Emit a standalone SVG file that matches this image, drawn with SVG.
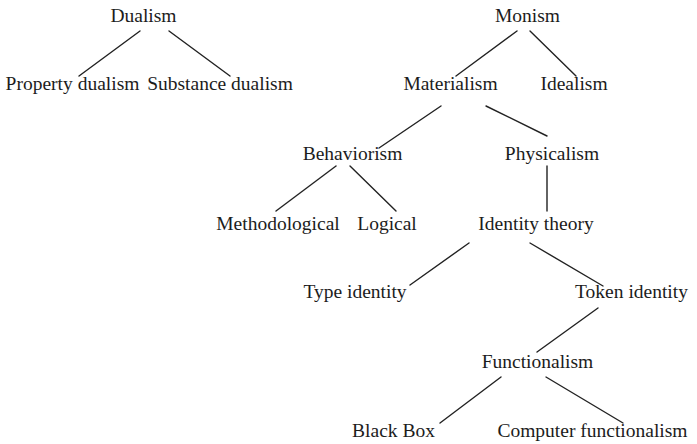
<svg xmlns="http://www.w3.org/2000/svg" width="697" height="444" viewBox="0 0 697 444">
<style>
text{font-family:"Liberation Serif","Times New Roman",serif;font-size:19.5px;fill:#1c1c1c;text-anchor:middle}
.c line{stroke:#222;stroke-width:1.4;stroke-linecap:round}
</style>
<rect width="697" height="444" fill="#fff"/>
<g class="c" id="connectors">
<line x1="140" y1="31" x2="79" y2="76"/>
<line x1="169" y1="31" x2="230" y2="76"/>
<line x1="517" y1="31" x2="456" y2="76"/>
<line x1="530" y1="31" x2="576" y2="76"/>
<line x1="441" y1="106" x2="379" y2="148"/>
<line x1="486" y1="106" x2="547" y2="136"/>
<line x1="336" y1="166" x2="276" y2="211"/>
<line x1="350" y1="166" x2="396" y2="211"/>
<line x1="547" y1="166" x2="547" y2="211"/>
<line x1="469" y1="243" x2="410" y2="285"/>
<line x1="530" y1="243" x2="603" y2="286"/>
<line x1="598" y1="308" x2="537" y2="352"/>
<line x1="501" y1="377" x2="440" y2="423"/>
<line x1="546" y1="377" x2="623" y2="423"/>
</g>
<g id="dualism"><text x="143.5" y="22">Dualism</text></g>
<g id="property-dualism"><text x="72.5" y="90">Property dualism</text></g>
<g id="substance-dualism"><text x="220" y="90">Substance dualism</text></g>
<g id="monism"><text x="527.5" y="22">Monism</text></g>
<g id="materialism"><text x="450.5" y="90">Materialism</text></g>
<g id="idealism"><text x="574" y="90">Idealism</text></g>
<g id="behaviorism"><text x="352.5" y="160">Behaviorism</text></g>
<g id="physicalism"><text x="552" y="160">Physicalism</text></g>
<g id="methodological"><text x="278" y="230">Methodological</text></g>
<g id="logical"><text x="387" y="230">Logical</text></g>
<g id="identity-theory"><text x="536" y="230">Identity theory</text></g>
<g id="type-identity"><text x="355" y="298">Type identity</text></g>
<g id="token-identity"><text x="631.5" y="298">Token identity</text></g>
<g id="functionalism"><text x="537.5" y="368">Functionalism</text></g>
<g id="black-box"><text x="393.5" y="437">Black Box</text></g>
<g id="computer-functionalism"><text x="592.5" y="437">Computer functionalism</text></g>
</svg>
